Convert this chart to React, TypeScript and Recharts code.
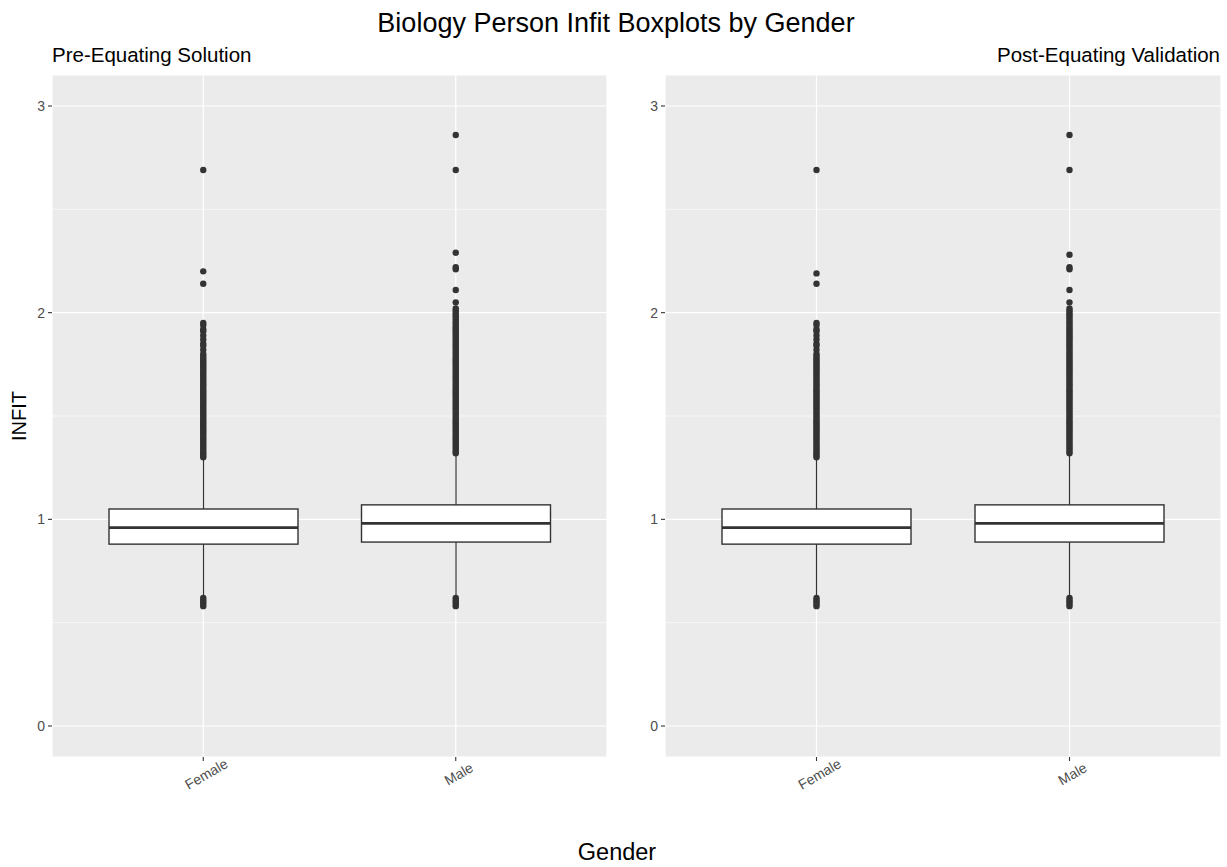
import React from 'react';
import { ComposedChart, Bar, Scatter, XAxis, YAxis, CartesianGrid } from 'recharts';

const genders = ['Female', 'Male'];

// box stats per gender (Female, Male)
const preWhiskerLow = [0.63, 0.63];
const preQ1 = [0.88, 0.89];
const preMedian = [0.96, 0.98];
const preQ3 = [1.05, 1.07];
const preWhiskerHigh = [1.29, 1.31];

const postWhiskerLow = [0.63, 0.63];
const postQ1 = [0.88, 0.89];
const postMedian = [0.96, 0.98];
const postQ3 = [1.05, 1.07];
const postWhiskerHigh = [1.29, 1.31];

// outliers
const lowOutliers = [0.58, 0.59, 0.6, 0.61, 0.62];
const femaleDense = [
  1.3, 1.31, 1.32, 1.33, 1.34, 1.35, 1.36, 1.37, 1.38, 1.39, 1.4, 1.41, 1.42, 1.43, 1.44, 1.45, 1.46,
  1.47, 1.48, 1.49, 1.5, 1.51, 1.52, 1.53, 1.54, 1.55, 1.56, 1.57, 1.58, 1.59, 1.6, 1.61, 1.62, 1.63,
  1.64, 1.65, 1.66, 1.67, 1.68, 1.69, 1.7, 1.71, 1.72, 1.73, 1.74, 1.75, 1.76, 1.77, 1.78, 1.79, 1.8,
];
const maleDense = [
  1.32, 1.33, 1.34, 1.35, 1.36, 1.37, 1.38, 1.39, 1.4, 1.41, 1.42, 1.43, 1.44, 1.45, 1.46, 1.47, 1.48,
  1.49, 1.5, 1.51, 1.52, 1.53, 1.54, 1.55, 1.56, 1.57, 1.58, 1.59, 1.6, 1.61, 1.62, 1.63, 1.64, 1.65,
  1.66, 1.67, 1.68, 1.69, 1.7, 1.71, 1.72, 1.73, 1.74, 1.75, 1.76, 1.77, 1.78, 1.79, 1.8, 1.81, 1.82,
  1.83, 1.84, 1.85, 1.86, 1.87, 1.88, 1.89, 1.9, 1.91, 1.92, 1.93, 1.94, 1.95, 1.96, 1.97, 1.98, 1.99,
  2.0, 2.01, 2.02,
];
const preFemaleHigh = [1.82, 1.84, 1.85, 1.87, 1.89, 1.91, 1.92, 1.94, 1.95, 2.14, 2.2, 2.69];
const preMaleHigh = [2.05, 2.11, 2.21, 2.22, 2.29, 2.69, 2.86];
const postFemaleHigh = [1.82, 1.84, 1.85, 1.87, 1.89, 1.91, 1.92, 1.94, 1.95, 2.14, 2.19, 2.69];
const postMaleHigh = [2.05, 2.11, 2.21, 2.22, 2.28, 2.69, 2.86];

const yTicks = [0, 1, 2, 3];
const yMinor = [0.5, 1.5, 2.5];

const FONT = '"Liberation Sans", Arial, sans-serif';

const makeBoxes = (lo: number[], q1: number[], med: number[], q3: number[], hi: number[]) =>
  genders.map((g, i) => ({ gender: g, range: [lo[i], hi[i]], q1: q1[i], median: med[i], q3: q3[i] }));

const makeOutliers = (female: number[], male: number[]) => [
  ...female.map(v => ({ gender: 'Female', infit: v })),
  ...male.map(v => ({ gender: 'Male', infit: v })),
];

const BoxShape = (props: any) => {
  const { x, y, width, height, payload } = props;
  const [lo, hi] = payload.range;
  const toY = (v: number) => y + (height * (hi - v)) / (hi - lo);
  const cx = x + width / 2;
  const top = toY(payload.q3);
  const bottom = toY(payload.q1);
  const my = toY(payload.median);
  return (
    <g>
      <line x1={cx} x2={cx} y1={y} y2={y + height} stroke="#333333" strokeWidth={1.2} />
      <rect x={x} y={top} width={width} height={bottom - top} fill="#ffffff" stroke="#333333" strokeWidth={1.4} />
      <line x1={x} x2={x + width} y1={my} y2={my} stroke="#333333" strokeWidth={2.8} />
    </g>
  );
};

const Dot = (props: any) => <circle cx={props.cx} cy={props.cy} r={3.2} fill="#333333" />;

const AngledTick = (props: any) => {
  const { x, y, payload } = props;
  const tx = x + 3;
  const ty = y + 11;
  return (
    <text
      x={tx}
      y={ty}
      dy="0.35em"
      textAnchor="middle"
      transform={`rotate(-30, ${tx}, ${ty})`}
      fill="#4D4D4D"
      fontSize={14}
      fontFamily={FONT}
    >
      {payload.value}
    </text>
  );
};

const Panel: React.FC<{ boxes: any[]; outliers: any[]; left: number; width: number }> = ({ boxes, outliers, left, width }) => (
  <div style={{ position: 'absolute', left, top: 0 }}>
    <ComposedChart width={width} height={867} data={boxes} margin={{ top: 75, right: 6, bottom: 80, left: 12 }}>
      <CartesianGrid fill="#EBEBEB" stroke="#ffffff" strokeWidth={0.6} vertical={false} horizontalValues={yMinor} />
      <CartesianGrid stroke="#ffffff" strokeWidth={1.2} />
      <XAxis
        dataKey="gender"
        type="category"
        allowDuplicatedCategory={false}
        padding={{ left: 25, right: 25 }}
        axisLine={false}
        tickLine={{ stroke: '#333333', strokeWidth: 1.1 }}
        tickSize={4}
        height={30}
        tick={<AngledTick />}
      />
      <YAxis
        type="number"
        domain={[-0.15, 3.15]}
        ticks={yTicks}
        axisLine={false}
        tickLine={{ stroke: '#333333', strokeWidth: 1.1 }}
        tickSize={4}
        tickMargin={3}
        width={40}
        tick={{ fill: '#4D4D4D', fontSize: 14, fontFamily: FONT }}
      />
      <Bar dataKey="range" barSize={189} shape={<BoxShape />} isAnimationActive={false} />
      <Scatter data={outliers} dataKey="infit" shape={<Dot />} isAnimationActive={false} />
    </ComposedChart>
  </div>
);

export default function App() {
  const preBoxes = makeBoxes(preWhiskerLow, preQ1, preMedian, preQ3, preWhiskerHigh);
  const postBoxes = makeBoxes(postWhiskerLow, postQ1, postMedian, postQ3, postWhiskerHigh);
  const preOutliers = makeOutliers([...lowOutliers, ...femaleDense, ...preFemaleHigh], [...lowOutliers, ...maleDense, ...preMaleHigh]);
  const postOutliers = makeOutliers([...lowOutliers, ...femaleDense, ...postFemaleHigh], [...lowOutliers, ...maleDense, ...postMaleHigh]);

  return (
    <div style={{ position: 'absolute', left: 0, top: 0, width: 1227, height: 867, background: '#ffffff', fontFamily: FONT }}>
      <svg width={1227} height={867} style={{ position: 'absolute', left: 0, top: 0 }}>
        <text x={616} y={32} textAnchor="middle" fontSize={27} fill="#000000" fontFamily={FONT}>
          Biology Person Infit Boxplots by Gender
        </text>
        <text x={52} y={62} fontSize={20.5} fill="#000000" fontFamily={FONT}>
          Pre-Equating Solution
        </text>
        <text x={1220} y={62} textAnchor="end" fontSize={20.5} fill="#000000" fontFamily={FONT}>
          Post-Equating Validation
        </text>
        <text x={26} y={416} textAnchor="middle" transform="rotate(-90, 26, 416)" fontSize={20} fill="#000000" fontFamily={FONT}>
          INFIT
        </text>
        <text x={617} y={860} textAnchor="middle" fontSize={23.5} fill="#000000" fontFamily={FONT}>
          Gender
        </text>
      </svg>
      <Panel boxes={preBoxes} outliers={preOutliers} left={0} width={613} />
      <Panel boxes={postBoxes} outliers={postOutliers} left={613} width={614} />
    </div>
  );
}
